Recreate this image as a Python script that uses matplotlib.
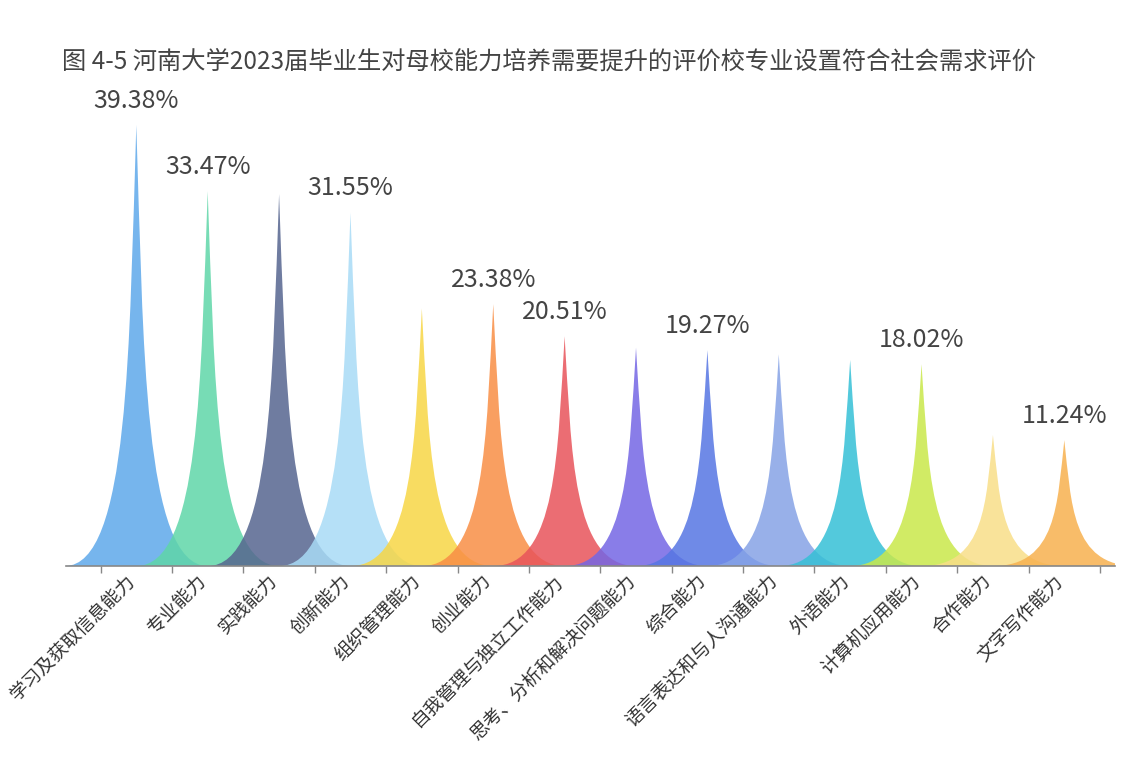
import matplotlib
matplotlib.use('Agg')
import matplotlib.pyplot as plt
from matplotlib.path import Path
from matplotlib.patches import PathPatch

plt.rcParams['font.family'] = ['Noto Sans CJK SC', 'DejaVu Sans']

# 数据
categories = ['学习及获取信息能力', '专业能力', '实践能力', '创新能力', '组织管理能力',
              '创业能力', '自我管理与独立工作能力', '思考、分析和解决问题能力', '综合能力',
              '语言表达和与人沟通能力', '外语能力', '计算机应用能力', '合作能力', '文字写作能力']
values = [39.38, 33.47, 33.2, 31.55, 23.0, 23.38, 20.51, 19.5, 19.27, 18.9, 18.4, 18.02, 11.7, 11.24]
# 参考图中只显示了部分标签（其余被遮挡隐藏）
show_label = [True, True, False, True, False, True, True, False, True, False, False, True, False, True]
colors = ['#5ea8ea', '#5fd6a8', '#56658f', '#a8dbf6', '#f7d645', '#f98e45', '#e8545a',
          '#7466e4', '#5676e3', '#86a3e6', '#35c0d6', '#c9e84a', '#f8de88', '#f7b14f']

title = '图 4-5 河南大学2023届毕业生对母校能力培养需要提升的评价校专业设置符合社会需求评价'


def spike_path(xc, h, hw=1.0):
    """尖峰形状（类似 echarts 的 pictorialBar 路径）"""
    verts = [
        (xc - hw, 0), (xc + hw, 0),
        (xc + 0.1 * hw, 0), (xc + 0.1 * hw, h / 2), (xc, h),
        (xc - 0.1 * hw, h / 2), (xc - 0.1 * hw, 0), (xc - hw, 0),
        (xc - hw, 0),
    ]
    codes = [Path.MOVETO, Path.LINETO,
             Path.CURVE4, Path.CURVE4, Path.CURVE4,
             Path.CURVE4, Path.CURVE4, Path.CURVE4,
             Path.CLOSEPOLY]
    return Path(verts, codes)


fig = plt.figure(figsize=(11.38, 7.78), dpi=100)
fig.patch.set_facecolor('white')
ax = fig.add_axes([66 / 1138, 212 / 778, 1049 / 1138, 448 / 778])

for i, (v, c) in enumerate(zip(values, colors)):
    ax.add_patch(PathPatch(spike_path(i, v), facecolor=c, edgecolor='none', alpha=0.85))
    if show_label[i]:
        ax.text(i, v + 1.0, f'{v:.2f}%', ha='center', va='bottom',
                fontsize=18, color='#444444')

ax.set_xlim(-0.985, 13.71)
ax.set_ylim(0, 40)

ax.set_xticks([i - 0.5 for i in range(len(categories) + 1)])
ax.set_xticklabels([])
ax.tick_params(axis='x', length=5, color='#888888', width=1)
ax.set_yticks([])
for s in ['top', 'right', 'left']:
    ax.spines[s].set_visible(False)
ax.spines['bottom'].set_color('#888888')
ax.spines['bottom'].set_linewidth(1.2)

for i, name in enumerate(categories):
    ax.annotate(name, xy=(i, 0), xycoords='data', xytext=(-4, -12), textcoords='offset pixels',
                rotation=45, rotation_mode='anchor', ha='right', va='center',
                fontsize=13.5, color='#333333')

fig.text(62 / 1138, 1 - 62 / 778, title, ha='left', va='center',
         fontsize=17.5, color='#444444')

fig.savefig('out.png', dpi=100, facecolor='white')
